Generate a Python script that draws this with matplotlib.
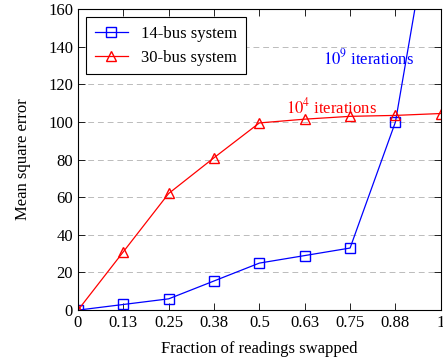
import matplotlib.pyplot as plt

plt.rcParams['font.family'] = ['Liberation Serif', 'DejaVu Serif']
plt.rcParams['mathtext.fontset'] = 'stix'

# fraction of readings swapped (k/8)
frac = [0, 0.125, 0.25, 0.375, 0.5, 0.625, 0.75, 0.875, 1.0]
tick_labels = ["0", "0.13", "0.25", "0.38", "0.5", "0.63", "0.75", "0.88", "1"]

mse_14 = [0, 3, 6, 15.5, 25, 29, 33, 100, 240]
mse_30 = [0, 31, 62, 81, 99.5, 101.5, 103, 103.5, 104.5]

fig = plt.figure(figsize=(4.43, 3.64), dpi=100)
ax = fig.add_axes([0.176, 0.148, 0.819, 0.827])

ax.plot(frac, mse_14, color='blue', marker='s', ms=6.5, mfc='none', mew=1.0, lw=0.9,
        label='14-bus system')
ax.plot(frac, mse_30, color='red', marker='^', ms=6.5, mfc='none', mew=1.0, lw=0.9,
        label='30-bus system')

ax.text(0.80, 134, r'$10^9$ iterations', color='blue', fontsize=12, ha='center', va='center')
ax.text(0.70, 108, r'$10^4$ iterations', color='red', fontsize=12, ha='center', va='center')

ax.set_xlim(0, 1)
ax.set_ylim(0, 160)
ax.set_xticks(frac)
ax.set_xticklabels(tick_labels)
ax.set_yticks(range(0, 161, 20))
ax.tick_params(direction='in', top=True, right=True, labelsize=12, length=5, width=0.6)
for y in range(20, 160, 20):
    ax.axhline(y, color='#bbbbbb', ls=(0, (6, 4)), lw=0.7, zorder=0)
for s in ax.spines.values():
    s.set_linewidth(0.8)

ax.set_xlabel('Fraction of readings swapped', fontsize=12, labelpad=7)
ax.set_ylabel('Mean square error', fontsize=12, labelpad=12)

leg = ax.legend(loc='upper left', fontsize=12, fancybox=False, edgecolor='black',
                framealpha=1, borderaxespad=0.5, handlelength=2.0, labelspacing=0.5,
                borderpad=0.5)
leg.get_frame().set_linewidth(0.8)

fig.savefig('out.png', dpi=100)
